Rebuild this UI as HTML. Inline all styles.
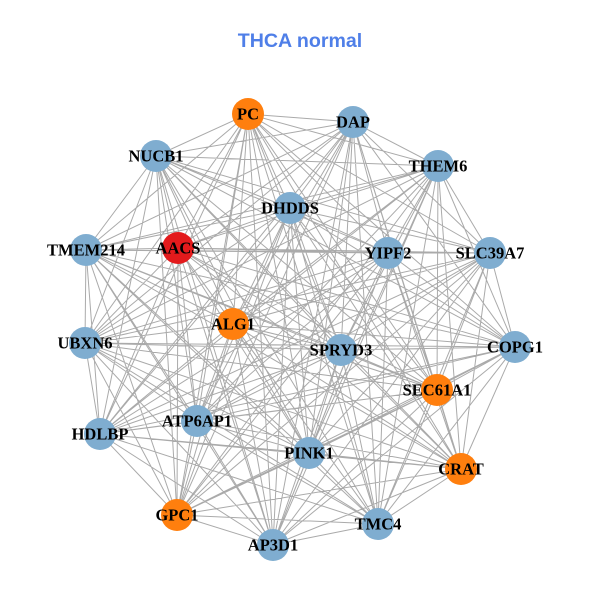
<!DOCTYPE html>
<html><head><meta charset="utf-8"><style>
html,body{margin:0;padding:0;background:#fff;}
svg{display:block}
.l{font-family:"Liberation Serif",serif;font-weight:bold;font-size:16.5px;fill:#000;text-anchor:middle;dominant-baseline:central}
</style></head><body>
<svg id="s" width="600" height="600" viewBox="0 0 600 600">
<rect width="600" height="600" fill="#fff"/>
<text x="300" y="41" text-anchor="middle" dominant-baseline="central" font-family="Liberation Sans, sans-serif" font-weight="bold" font-size="19.6" fill="#4f7fe8">THCA normal</text>
<path id="edges" d="" stroke="#aaaaaa" stroke-width="1" fill="none"/>
<g id="nodes"></g>
<g>
<text class="l" x="248" y="114">PC</text>
<text class="l" x="353" y="122">DAP</text>
<text class="l" x="156" y="156">NUCB1</text>
<text class="l" x="438" y="166">THEM6</text>
<text class="l" x="290" y="208">DHDDS</text>
<text class="l" x="86" y="250">TMEM214</text>
<text class="l" x="178" y="248">AACS</text>
<text class="l" x="388" y="253">YIPF2</text>
<text class="l" x="490" y="253">SLC39A7</text>
<text class="l" x="233" y="324">ALG1</text>
<text class="l" x="85" y="343">UBXN6</text>
<text class="l" x="341" y="350">SPRYD3</text>
<text class="l" x="515" y="347">COPG1</text>
<text class="l" x="437" y="390">SEC61A1</text>
<text class="l" x="100" y="434">HDLBP</text>
<text class="l" x="197" y="421">ATP6AP1</text>
<text class="l" x="309" y="453">PINK1</text>
<text class="l" x="461" y="469">CRAT</text>
<text class="l" x="177" y="515">GPC1</text>
<text class="l" x="378" y="524">TMC4</text>
<text class="l" x="273" y="545">AP3D1</text>
</g>
</svg>
<script>
var N=[[248,114,"o"],[353,122,"b"],[156,156,"b"],[438,166,"b"],[290,208,"b"],[86,250,"b"],[178,248,"r"],[388,253,"b"],[490,253,"b"],[233,324,"o"],[85,343,"b"],[341,350,"b"],[515,347,"b"],[437,390,"o"],[100,434,"b"],[197,421,"b"],[309,453,"b"],[461,469,"o"],[177,515,"o"],[378,524,"b"],[273,545,"b"]];
var d="";
for(var i=0;i<N.length;i++)for(var j=i+1;j<N.length;j++){d+="M"+N[i][0]+" "+N[i][1]+"L"+N[j][0]+" "+N[j][1];}
document.getElementById("edges").setAttribute("d",d);
var c={o:"#ff7f0e",b:"#7fadd0",r:"#e31a1c"},g=document.getElementById("nodes"),h="";
N.forEach(function(n){h+='<circle cx="'+n[0]+'" cy="'+n[1]+'" r="16" fill="'+c[n[2]]+'"/>';});
g.innerHTML=h;
</script>
</body></html>
